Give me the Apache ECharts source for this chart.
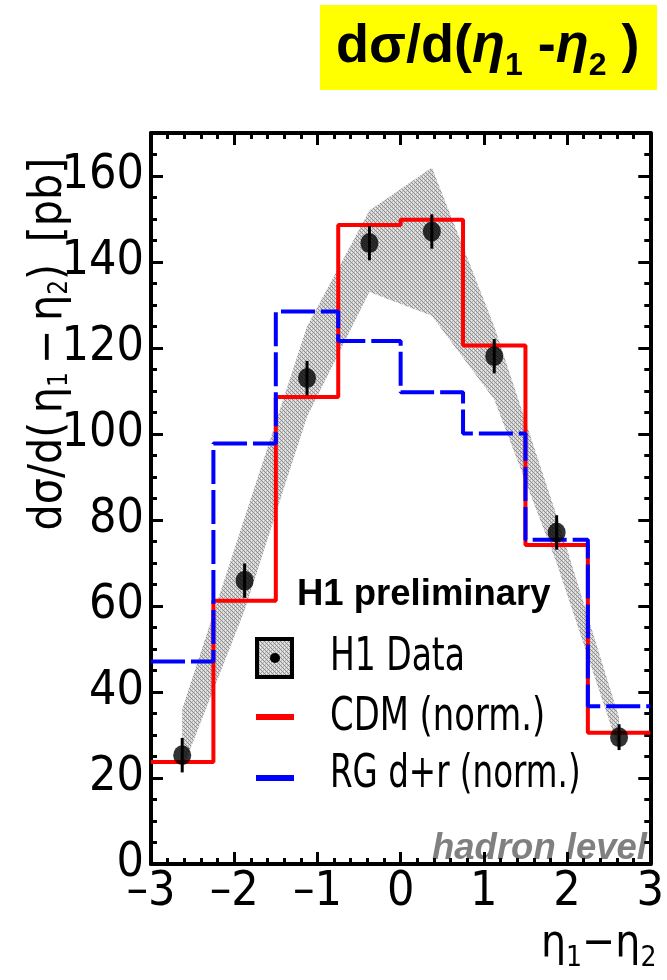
<!DOCTYPE html>
<html>
<head>
<meta charset="utf-8">
<title>dσ/d(η1-η2)</title>
<script src="https://cdn.jsdelivr.net/npm/echarts@6/dist/echarts.min.js"></script>
<style>
  html, body { margin: 0; padding: 0; background: #fff; }
  #main { width: 667px; height: 980px; }
</style>
</head>
<body>
<div id="main"></div>
<script>
// bins in eta1 - eta2, data points sit at the bin centres
var binEdges = [-3, -2.25, -1.5, -0.75, 0, 0.75, 1.5, 2.25, 3];
var binCenters = [-2.625, -1.875, -1.125, -0.375, 0.375, 1.125, 1.875, 2.625];

// H1 data [pb] and its errors
var h1Data = [25.3, 65.9, 113, 144.4, 147.1, 118.1, 77.1, 29.5];
var h1Err = [4, 4, 4, 4, 4, 4, 4, 3];
// grey band (upper / lower edge at the bin centres)
var bandHigh = [36, 80.5, 125, 152, 162, 125, 81, 34];
var bandLow = [22, 59, 104, 133, 127.5, 108, 70, 26.5];

// models
var cdm = [23.7, 61.2, 108.6, 148.6, 149.8, 120.6, 74.2, 30.5];
var rgdr = [47.1, 97.8, 128.5, 121.6, 109.7, 100.1, 75.4, 36.7];

var xTicks = [-3, -2, -1, 0, 1, 2, 3];
var yTicks = [0, 20, 40, 60, 80, 100, 120, 140, 160];

var NARROW = "'DejaVu Sans Condensed', 'Liberation Sans Narrow', 'Liberation Sans', Arial, sans-serif";
var SANS = "'Liberation Sans', Arial, Helvetica, sans-serif";

// checkered grey fill like the original hatch
function hatch() {
  var c = document.createElement('canvas');
  c.width = 4; c.height = 4;
  var g = c.getContext('2d');
  var rows = [
    ['#d0d0d0', '#8c8c8c', '#d0d0d0', '#eeeeee'],
    ['#b4b4b4', '#d8d8d8', '#8c8c8c', '#d8d8d8'],
    ['#d0d0d0', '#eeeeee', '#d0d0d0', '#8c8c8c'],
    ['#8c8c8c', '#d8d8d8', '#b4b4b4', '#d8d8d8']
  ];
  for (var r = 0; r < 4; r++) {
    for (var k = 0; k < 4; k++) {
      g.fillStyle = rows[r][k];
      g.fillRect(k, r, 1, 1);
    }
  }
  return { image: c, repeat: 'repeat' };
}
var pattern = hatch();

function stepData(vals) {
  var d = vals.map(function (v, i) { return [binEdges[i], v]; });
  d.push([binEdges[binEdges.length - 1], vals[vals.length - 1]]);
  return d;
}

var tickStyle = { show: true, inside: true, length: 12, lineStyle: { color: '#000', width: 3 } };
var minorStyle = { show: true, length: 6, lineStyle: { color: '#000', width: 3 } };
var lineStyleAxis = { show: true, onZero: false, lineStyle: { color: '#000', width: 4 } };

var chart = echarts.init(document.getElementById('main'));

chart.setOption({
  animation: false,
  grid: { left: 151, right: 8, top: 133, bottom: 116 },
  xAxis: [
    {
      type: 'value', min: -3, max: 3, interval: 1,
      axisLine: lineStyleAxis, axisTick: tickStyle,
      minorTick: Object.assign({ splitNumber: 5 }, minorStyle),
      splitLine: { show: false },
      axisLabel: {
        color: '#000', fontFamily: NARROW, fontSize: 48, margin: 5,
        formatter: function (v) {
          return xTicks.indexOf(v) >= 0 ? String(v).replace('-', '\u2013') : '';
        }
      }
    },
    {
      type: 'value', position: 'top', min: -3, max: 3, interval: 1,
      axisLine: lineStyleAxis, axisTick: tickStyle,
      minorTick: Object.assign({ splitNumber: 5 }, minorStyle),
      splitLine: { show: false }, axisLabel: { show: false }
    }
  ],
  yAxis: [
    {
      type: 'value', min: 0, max: 170, interval: 20,
      axisLine: lineStyleAxis, axisTick: tickStyle,
      minorTick: Object.assign({ splitNumber: 4 }, minorStyle),
      splitLine: { show: false },
      axisLabel: {
        color: '#000', fontFamily: NARROW, fontSize: 48, margin: 7,
        showMaxLabel: false,
        formatter: function (v) { return yTicks.indexOf(v) >= 0 ? String(v) : ''; }
      }
    },
    {
      type: 'value', position: 'right', min: 0, max: 170, interval: 20,
      axisLine: lineStyleAxis, axisTick: tickStyle,
      minorTick: Object.assign({ splitNumber: 4 }, minorStyle),
      splitLine: { show: false }, axisLabel: { show: false }
    }
  ],
  series: [
    {
      name: 'H1 band',
      type: 'custom',
      xAxisIndex: 0, yAxisIndex: 0,
      silent: true,
      z: 1,
      data: [[0, 0]],
      renderItem: function (params, api) {
        var pts = [];
        for (var i = 0; i < binCenters.length; i++) {
          pts.push(api.coord([binCenters[i], bandHigh[i]]));
        }
        for (var j = binCenters.length - 1; j >= 0; j--) {
          pts.push(api.coord([binCenters[j], bandLow[j]]));
        }
        return { type: 'polygon', shape: { points: pts }, style: { fill: pattern } };
      }
    },
    {
      name: 'CDM (norm.)',
      type: 'line', step: 'end', symbol: 'none', z: 3,
      data: stepData(cdm),
      lineStyle: { color: '#ff0000', width: 4 }
    },
    {
      name: 'RG d+r (norm.)',
      type: 'line', step: 'end', symbol: 'none', z: 3,
      data: stepData(rgdr),
      lineStyle: { color: '#0000ff', width: 4, type: [34, 6] }
    },
    {
      name: 'H1 err',
      type: 'custom', z: 4, silent: true,
      data: binCenters.map(function (x, i) { return [x, h1Data[i], h1Err[i]]; }),
      renderItem: function (params, api) {
        var x = api.value(0), y = api.value(1), e = api.value(2);
        var a = api.coord([x, y + e]);
        var b = api.coord([x, y - e]);
        return {
          type: 'line',
          shape: { x1: a[0], y1: a[1], x2: b[0], y2: b[1] },
          style: { stroke: '#000', lineWidth: 3 }
        };
      }
    },
    {
      name: 'H1 Data',
      type: 'scatter', z: 5,
      symbol: 'circle', symbolSize: [18, 20],
      itemStyle: { color: '#000' },
      data: binCenters.map(function (x, i) { return [x, h1Data[i]]; })
    }
  ],
  graphic: [
    // title box
    {
      type: 'rect', left: 320, top: 5,
      shape: { width: 337, height: 85 },
      style: { fill: '#ffff00' }
    },
    {
      type: 'text', x: 336, y: 16,
      style: {
        text: '{a|d\u03c3/d(}{i|\u03b7}{s|1}{a| -}{i|\u03b7}{s|2}{a| )}',
        rich: {
          a: { fontFamily: SANS, fontWeight: 'bold', fontSize: 54, lineHeight: 62, fill: '#000' },
          i: { fontFamily: SANS, fontWeight: 'bold', fontStyle: 'italic', fontSize: 54, lineHeight: 62, fill: '#000' },
          s: { fontFamily: SANS, fontWeight: 'bold', fontSize: 32, lineHeight: 32, padding: [38, 0, 0, 0], fill: '#000' }
        }
      }
    },
    // y axis title, rotated
    {
      type: 'text', x: 49, y: 344, rotation: Math.PI / 2,
      style: {
        text: '{a|d\u03c3/d(\u2009\u03b7}{s|1}{a|\u2009\u2212\u2009\u03b7}{s|2}{a|)\u2009 [pb]}',
        align: 'center', verticalAlign: 'middle',
        rich: {
          a: { fontFamily: NARROW, fontSize: 46, lineHeight: 48, fill: '#000' },
          s: { fontFamily: NARROW, fontSize: 26, lineHeight: 24, padding: [22, 0, 0, 0], fill: '#000' }
        }
      }
    },
    // x axis title
    {
      type: 'text', x: 541, y: 920,
      style: {
        text: '{a|\u03b7}{s|1}{a|\u2212\u03b7}{s|2}',
        rich: {
          a: { fontFamily: NARROW, fontSize: 44, lineHeight: 50, fill: '#000' },
          s: { fontFamily: NARROW, fontSize: 28, lineHeight: 26, padding: [28, 0, 0, 0], fill: '#000' }
        }
      }
    },
    // legend block
    {
      type: 'text', x: 297, y: 576,
      style: { text: 'H1 preliminary', fontFamily: SANS, fontWeight: 'bold', fontSize: 36.5, fill: '#000' }
    },
    {
      type: 'rect', x: 257, y: 639,
      shape: { width: 35, height: 38 },
      style: { fill: pattern, stroke: '#000', lineWidth: 4 }
    },
    {
      type: 'circle', x: 275, y: 658,
      shape: { r: 5 },
      style: { fill: '#000' }
    },
    {
      type: 'text', x: 330, y: 634, scaleX: 0.78,
      style: { text: 'H1 Data', fontFamily: NARROW, fontSize: 47, fill: '#000' }
    },
    {
      type: 'rect', x: 256, y: 714,
      shape: { width: 38, height: 6 },
      style: { fill: '#ff0000' }
    },
    {
      type: 'text', x: 330, y: 694, scaleX: 0.8,
      style: { text: 'CDM (norm.)', fontFamily: NARROW, fontSize: 47, fill: '#000' }
    },
    {
      type: 'rect', x: 256, y: 775,
      shape: { width: 38, height: 6 },
      style: { fill: '#0000ff' }
    },
    {
      type: 'text', x: 330, y: 751, scaleX: 0.77,
      style: { text: 'RG d+r (norm.)', fontFamily: NARROW, fontSize: 47, fill: '#000' }
    },
    {
      type: 'text', x: 432, y: 830,
      style: { text: 'hadron level', fontFamily: SANS, fontWeight: 'bold', fontStyle: 'italic', fontSize: 36.5, fill: '#808080' }
    }
  ]
});
</script>
</body>
</html>
